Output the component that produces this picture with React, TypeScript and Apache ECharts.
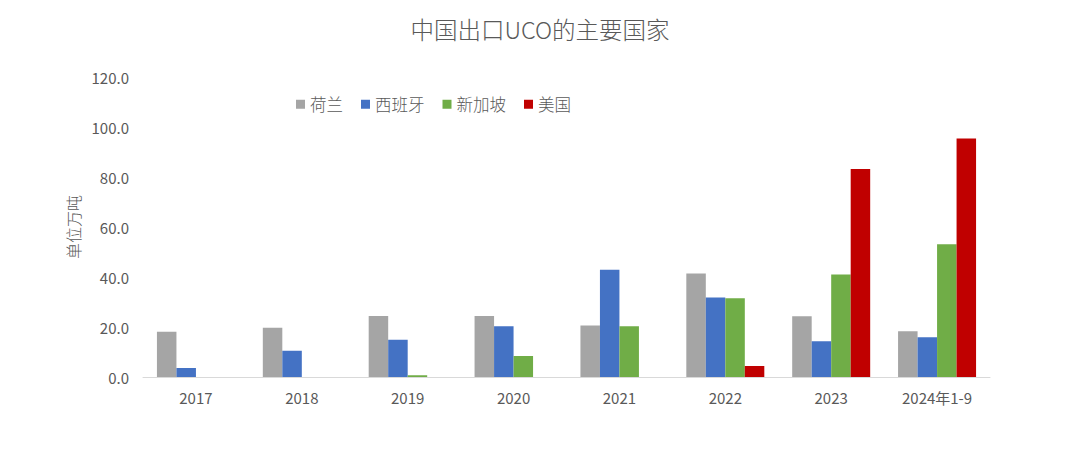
import React, { useEffect, useRef } from "react";
import * as echarts from "echarts";

const categories = ["2017", "2018", "2019", "2020", "2021", "2022", "2023", "2024年1-9"];
const netherlands = [18.1, 19.7, 24.4, 24.4, 20.6, 41.4, 24.3, 18.3];
const spain = [3.6, 10.5, 14.9, 20.3, 42.9, 31.8, 14.3, 15.9];
const singapore = [0, 0, 0.7, 8.4, 20.3, 31.5, 41.0, 53.1];
const usa = [0, 0, 0, 0, 0, 4.4, 83.2, 95.4];
const seriesNames = ["荷兰", "西班牙", "新加坡", "美国"];
const colors = ["#A5A5A5", "#4472C4", "#70AD47", "#C00000"];

const FONT = "'Liberation Sans Narrow', 'Noto Sans CJK SC', sans-serif";
const CJK = "'Noto Sans CJK SC', sans-serif";

export default function App() {
  const ref = useRef<HTMLDivElement>(null);
  useEffect(() => {
    if (!ref.current) return;
    const chart = echarts.init(ref.current, undefined, { renderer: "svg" });
    const data = [netherlands, spain, singapore, usa];
    chart.setOption({
      animation: false,
      backgroundColor: "#ffffff",
      title: {
        text: "中国出口UCO的主要国家",
        left: "center",
        top: 12,
        textStyle: { color: "#595959", fontSize: 23.5, fontWeight: 300, fontFamily: CJK },
      },
      legend: {
        left: 291,
        top: 91,
        itemWidth: 9,
        itemHeight: 9,
        itemGap: 18,
        icon: "rect",
        textStyle: { color: "#595959", fontSize: 16.5, fontWeight: 300, fontFamily: CJK },
        data: seriesNames,
      },
      grid: { left: 143, right: 90, top: 77, bottom: 97, containLabel: false },
      xAxis: {
        type: "category",
        data: categories,
        axisLine: { lineStyle: { color: "#D9D9D9", width: 1 } },
        axisTick: { show: false },
        axisLabel: { color: "#595959", fontSize: 15, fontFamily: FONT, margin: 13 },
      },
      yAxis: {
        type: "value",
        min: 0,
        max: 120,
        interval: 20,
        name: "单位万吨",
        nameLocation: "middle",
        nameRotate: 90,
        nameGap: 60,
        nameTextStyle: { color: "#595959", fontSize: 16, fontWeight: 300, fontFamily: CJK },
        axisLine: { show: false },
        axisTick: { show: false },
        splitLine: { show: false },
        axisLabel: {
          color: "#595959",
          fontSize: 15,
          fontFamily: FONT,
          margin: 14,
          formatter: (v: number) => v.toFixed(1),
        },
      },
      series: seriesNames.map((name, i) => ({
        name,
        type: "bar",
        data: data[i],
        barWidth: 19.5,
        barGap: "0%",
        itemStyle: { color: colors[i] },
      })),
    });
    return () => chart.dispose();
  }, []);
  return (
    <div
      ref={ref}
      style={{ position: "absolute", left: 0, top: 0, width: 1080, height: 474 }}
    />
  );
}
